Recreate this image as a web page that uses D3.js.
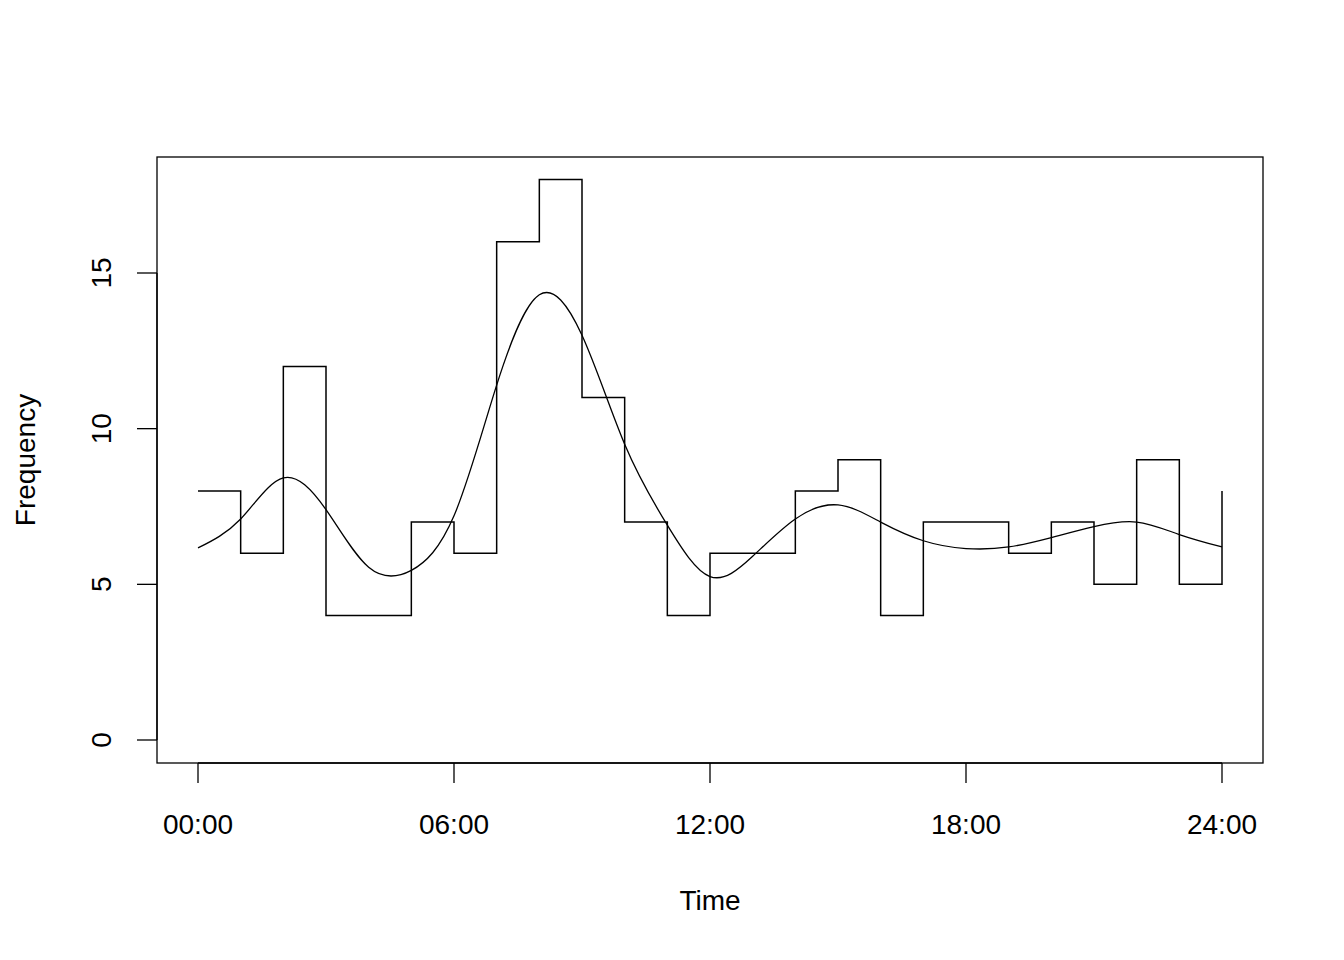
<!DOCTYPE html>
<html><head><meta charset="utf-8">
<script src="https://cdn.jsdelivr.net/npm/d3@7"></script>
<style>body{margin:0;background:#fff}</style></head>
<body><svg id="c" width="1344" height="960"></svg>
<script>
const hours = d3.range(0, 25);
const counts = [8,6,12,4,4,7,6,16,18,11,7,4,6,6,8,9,4,7,7,6,7,5,9,5,8];
const smoothX = [0,1,2,3,4,5,6,7,8,9,10,11,12,13,14,15,16,17,18,19,20,21,22,23,24];
const smoothY = [6.17,7.1,8.42,7.4,5.55,5.45,7.2,11.4,14.3,13.0,9.5,6.9,5.25,5.9,7.1,7.55,7.0,6.4,6.15,6.2,6.5,6.85,7.0,6.6,6.2];
const xTicks = [0,6,12,18,24];
const xTickLabels = ["00:00","06:00","12:00","18:00","24:00"];
const yTicks = [0,5,10,15];

const svg = d3.select("#c");
const font = "Liberation Sans, Arial, sans-serif";
const fs = 28;
const x = d3.scaleLinear().domain([0,24]).range([198,1222]);
const y = d3.scaleLinear().domain([0,15]).range([740,273]);

svg.append("rect").attr("x",157).attr("y",157).attr("width",1106).attr("height",606)
  .attr("fill","none").attr("stroke","#000").attr("stroke-width",1.3);

const step = d3.line().x((d,i)=>x(hours[i])).y(d=>y(d)).curve(d3.curveStepAfter);
svg.append("path").attr("d", step(counts)).attr("fill","none").attr("stroke","#000").attr("stroke-width",1.5);

const sm = d3.line().x((d,i)=>x(smoothX[i])).y(d=>y(d)).curve(d3.curveNatural);
svg.append("path").attr("d", sm(smoothY)).attr("fill","none").attr("stroke","#000").attr("stroke-width",1.3);

const xa = svg.append("g");
xa.append("line").attr("x1",x(0)).attr("x2",x(24)).attr("y1",763).attr("y2",763).attr("stroke","#000").attr("stroke-width",1.3);
xTicks.forEach((t,i)=>{
  xa.append("line").attr("x1",x(t)).attr("x2",x(t)).attr("y1",763).attr("y2",783).attr("stroke","#000").attr("stroke-width",1.3);
  xa.append("text").attr("x",x(t)).attr("y",834).attr("text-anchor","middle")
    .attr("font-family",font).attr("font-size",fs).text(xTickLabels[i]);
});
const ya = svg.append("g");
ya.append("line").attr("x1",157).attr("x2",157).attr("y1",y(0)).attr("y2",y(15)).attr("stroke","#000").attr("stroke-width",1.3);
yTicks.forEach(t=>{
  ya.append("line").attr("x1",137).attr("x2",157).attr("y1",y(t)).attr("y2",y(t)).attr("stroke","#000").attr("stroke-width",1.3);
  ya.append("text").attr("transform",`translate(111,${y(t)}) rotate(-90)`).attr("text-anchor","middle")
    .attr("font-family",font).attr("font-size",fs).text(t);
});
svg.append("text").attr("x",710).attr("y",910).attr("text-anchor","middle").attr("font-family",font).attr("font-size",fs).text("Time");
svg.append("text").attr("transform","translate(35,460) rotate(-90)").attr("text-anchor","middle").attr("font-family",font).attr("font-size",fs).text("Frequency");
</script></body></html>
